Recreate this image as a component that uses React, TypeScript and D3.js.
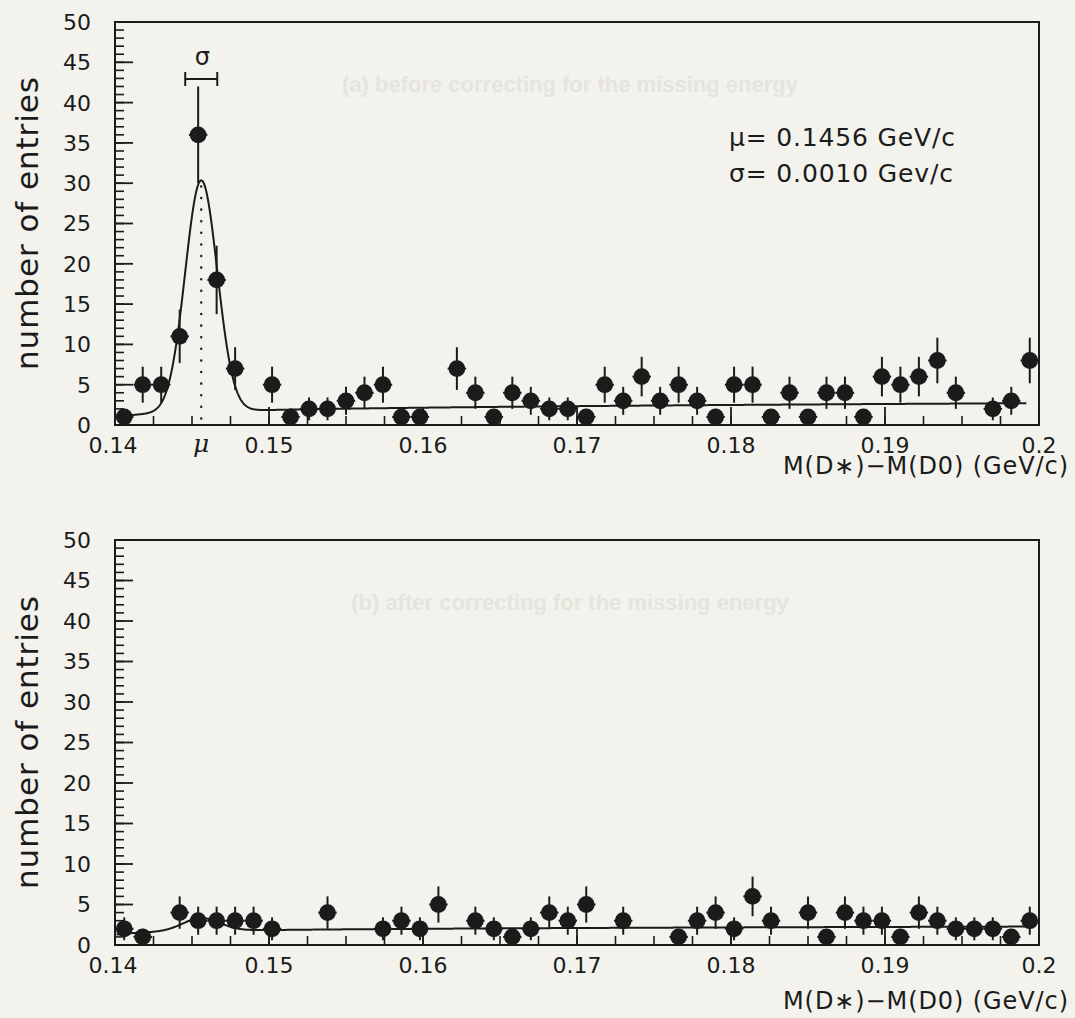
import React from "react";
import * as d3 from "d3";

// Histogram binning of the mass difference M(D*) - M(D0), in GeV/c
const binRange: [number, number] = [0.14, 0.2];
const binCount = 50;

// Entries per bin, panel (a): before correcting for the missing energy
const countsBefore = [
  1, 5, 5, 11, 36, 18, 7, 0, 5, 1, 2, 2, 3, 4, 5, 1, 1, 0, 7, 4, 1, 4, 3, 2, 2,
  1, 5, 3, 6, 3, 5, 3, 1, 5, 5, 1, 4, 1, 4, 4, 1, 6, 5, 6, 8, 4, 0, 2, 3, 8,
];

// Entries per bin, panel (b): after correcting for the missing energy
const countsAfter = [
  2, 1, 0, 4, 3, 3, 3, 3, 2, 0, 0, 4, 0, 0, 2, 3, 2, 5, 0, 3, 2, 1, 2, 4, 3,
  5, 0, 3, 0, 0, 1, 3, 4, 2, 6, 3, 0, 4, 1, 4, 3, 3, 1, 4, 3, 2, 2, 2, 1, 3,
];

// Axis ticks
const xMajorTicks = [0.14, 0.15, 0.16, 0.17, 0.18, 0.19, 0.2];
const xTickLabels = ["0.14", "0.15", "0.16", "0.17", "0.18", "0.19", "0.2"];
const xMinorStep = 0.0025;
const yDomain: [number, number] = [0, 50];
const yMajorTicks = [0, 5, 10, 15, 20, 25, 30, 35, 40, 45, 50];
const yTickLabels = ["0", "5", "10", "15", "20", "25", "30", "35", "40", "45", "50"];

// Fit: Gaussian signal on a threshold background  norm * (m - mPi)^power
const pionThreshold = 0.1396;
const fitRange: [number, number] = [0.1401, 0.1992];
const fitBefore = { mu: 0.1456, sigma: 0.00104, amp: 28.7, bgNorm: 4.94, bgPower: 0.214 };
const fitAfter = { mu: 0.1456, sigma: 0.0012, amp: 1.6, bgNorm: 3.19, bgPower: 0.12 };

// Texts
const yTitle = "number of entries";
const xTitle = "M(D\u2217)\u2212M(D0) (GeV/c)";
const statLines = ["\u03bc= 0.1456 GeV/c", "\u03c3= 0.0010 Gev/c"];
const faintTitles = [
  "(a) before correcting for the missing energy",
  "(b) after correcting for the missing energy",
];

const INK = "#1b1b1b";
const PAPER = "#f3f2ec";
const FONT = "'DejaVu Sans', Verdana, sans-serif";

type Fit = typeof fitBefore;

function fitValue(f: Fit, m: number) {
  const bg = f.bgNorm * Math.pow(Math.max(m - pionThreshold, 1e-6), f.bgPower);
  const z = (m - f.mu) / f.sigma;
  return bg + f.amp * Math.exp(-0.5 * z * z);
}

function Panel(props: {
  counts: number[];
  fit: Fit;
  top: number;
  bottom: number;
  x: d3.ScaleLinear<number, number>;
  titleY: number;
  faintTitle: string;
  annotate: boolean;
}) {
  const { counts, fit, top, bottom, x, titleY, faintTitle, annotate } = props;
  const [left, right] = x.range();
  const y = d3.scaleLinear().domain(yDomain).range([bottom, top]);
  const binW = (binRange[1] - binRange[0]) / binCount;

  const points = counts
    .map((n, i) => ({ c: binRange[0] + binW * (i + 0.5), n }))
    .filter((d) => d.n > 0);

  const xs = d3.range(fitRange[0], fitRange[1], 0.00004);
  const curve = d3
    .line<number>()
    .x((m) => x(m))
    .y((m) => y(fitValue(fit, m)))(xs);

  const nMinor = Math.round((binRange[1] - binRange[0]) / xMinorStep);
  const xMinor = d3.range(1, nMinor).map((i) => binRange[0] + i * xMinorStep);
  const yMinor = d3.range(yDomain[0] + 1, yDomain[1]);

  const peakY = y(fitValue(fit, fit.mu));
  const midY = (top + bottom) / 2;

  return (
    <g>
      {/* faint caption seen through the page */}
      <text
        x={570}
        y={top + 70}
        textAnchor="middle"
        fontFamily="'Liberation Sans', Arial, sans-serif"
        fontWeight="bold"
        fontSize={22}
        fill="#e5e4dd"
      >
        {faintTitle}
      </text>

      {/* frame */}
      <rect
        x={left}
        y={top}
        width={right - left}
        height={bottom - top}
        fill="none"
        stroke={INK}
        strokeWidth={2}
      />

      {/* y ticks on the left axis, pointing inward */}
      {yMinor.map((v) => (
        <line key={"ym" + v} x1={left} x2={left + 9} y1={y(v)} y2={y(v)} stroke={INK} strokeWidth={1.6} />
      ))}
      {yMajorTicks.map((v) => (
        <line key={"yM" + v} x1={left} x2={left + 18} y1={y(v)} y2={y(v)} stroke={INK} strokeWidth={1.8} />
      ))}
      {yMajorTicks.map((v, i) => (
        <text
          key={"yl" + v}
          x={91}
          y={y(v)}
          dy="0.36em"
          textAnchor="end"
          fontFamily={FONT}
          fontSize={22}
          fill={INK}
        >
          {yTickLabels[i]}
        </text>
      ))}

      {/* x ticks on the bottom axis, pointing inward */}
      {xMinor.map((v) => (
        <line key={"xm" + v} x1={x(v)} x2={x(v)} y1={bottom} y2={bottom - 9} stroke={INK} strokeWidth={1.6} />
      ))}
      {xMajorTicks.map((v) => (
        <line key={"xM" + v} x1={x(v)} x2={x(v)} y1={bottom} y2={bottom - 18} stroke={INK} strokeWidth={1.8} />
      ))}
      {xMajorTicks.map((v, i) => (
        <text
          key={"xl" + v}
          x={x(v) + (i === 0 ? -2 : 0)}
          y={bottom + 28}
          textAnchor="middle"
          fontFamily={FONT}
          fontSize={22}
          fill={INK}
        >
          {xTickLabels[i]}
        </text>
      ))}

      {/* axis titles */}
      <text
        transform={`translate(38,${midY}) rotate(-90)`}
        textAnchor="middle"
        fontFamily={FONT}
        fontSize={31}
        textLength={293}
        lengthAdjust="spacing"
        fill={INK}
      >
        {yTitle}
      </text>
      <text
        x={1068}
        y={titleY}
        textAnchor="end"
        fontFamily={FONT}
        fontSize={24}
        textLength={285}
        lengthAdjust="spacing"
        fill={INK}
      >
        {xTitle}
      </text>

      {/* fitted curve */}
      <path d={curve ?? ""} fill="none" stroke={INK} strokeWidth={2} />

      {annotate && (
        <g>
          {/* dotted line at the fitted mean */}
          <line
            x1={x(fit.mu)}
            x2={x(fit.mu)}
            y1={peakY + 6}
            y2={bottom}
            stroke={INK}
            strokeWidth={2.4}
            strokeLinecap="round"
            strokeDasharray="0.1 11.5"
          />
          <text
            x={x(fit.mu)}
            y={bottom + 27}
            textAnchor="middle"
            fontFamily="'DejaVu Serif', serif"
            fontStyle="italic"
            fontSize={25}
            fill={INK}
          >
            {"\u03bc"}
          </text>
          {/* width marker: +/- sigma around the mean */}
          <g stroke={INK} strokeWidth={2}>
            <line x1={x(fit.mu - fit.sigma)} x2={x(fit.mu + fit.sigma)} y1={79} y2={79} />
            <line x1={x(fit.mu - fit.sigma)} x2={x(fit.mu - fit.sigma)} y1={72} y2={86} />
            <line x1={x(fit.mu + fit.sigma)} x2={x(fit.mu + fit.sigma)} y1={72} y2={86} />
          </g>
          <text
            x={x(fit.mu) + 1}
            y={65}
            textAnchor="middle"
            fontFamily={FONT}
            fontSize={24}
            fill={INK}
          >
            {"\u03c3"}
          </text>
          {/* fit results */}
          {statLines.map((s, i) => (
            <text
              key={s}
              x={729}
              y={146 + i * 36}
              fontFamily={FONT}
              fontSize={25}
              textLength={i === 0 ? 226 : 224}
              lengthAdjust="spacing"
              fill={INK}
            >
              {s}
            </text>
          ))}
        </g>
      )}

      {/* data points with statistical errors */}
      {points.map((d) => {
        const e = Math.sqrt(d.n);
        return (
          <g key={"p" + d.c}>
            <line
              x1={x(d.c)}
              x2={x(d.c)}
              y1={y(d.n - e)}
              y2={y(d.n + e)}
              stroke={INK}
              strokeWidth={2}
            />
            <line
              x1={x(d.c - binW / 2)}
              x2={x(d.c + binW / 2)}
              y1={y(d.n)}
              y2={y(d.n)}
              stroke={INK}
              strokeWidth={2}
            />
            <circle cx={x(d.c)} cy={y(d.n)} r={8.4} fill={INK} />
          </g>
        );
      })}
    </g>
  );
}

export default function App() {
  const W = 1075;
  const H = 1018;
  const x = d3.scaleLinear().domain(binRange).range([115, 1039]);

  return (
    <div style={{ position: "absolute", left: 0, top: 0, width: W, height: H, background: PAPER }}>
      <svg width={W} height={H} viewBox={`0 0 ${W} ${H}`} style={{ display: "block" }}>
        <rect x={0} y={0} width={W} height={H} fill={PAPER} />
        <Panel
          counts={countsBefore}
          fit={fitBefore}
          top={22}
          bottom={425}
          x={x}
          titleY={474}
          faintTitle={faintTitles[0]}
          annotate={true}
        />
        <Panel
          counts={countsAfter}
          fit={fitAfter}
          top={540}
          bottom={945}
          x={x}
          titleY={1009}
          faintTitle={faintTitles[1]}
          annotate={false}
        />
      </svg>
    </div>
  );
}
